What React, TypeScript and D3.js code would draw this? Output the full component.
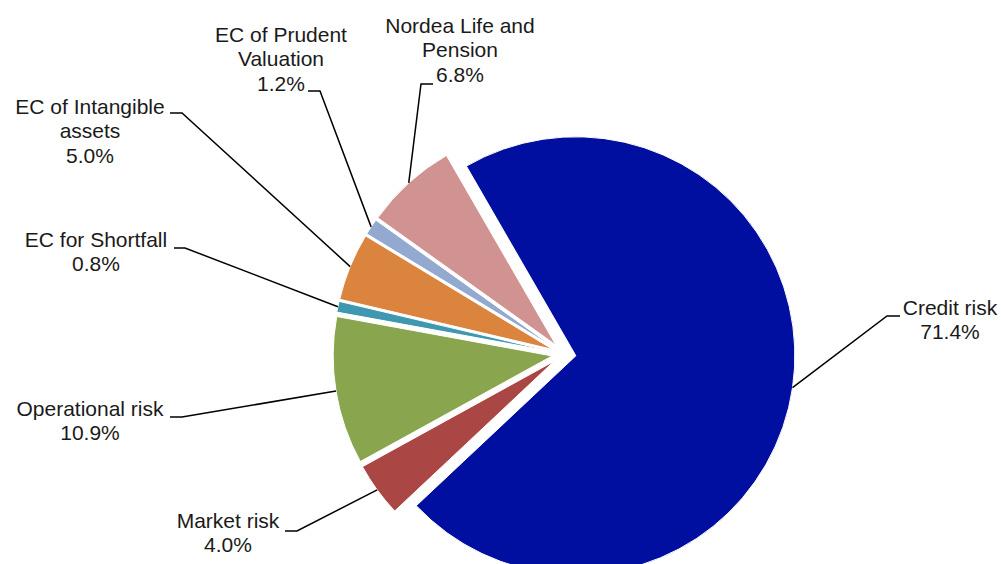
import React from "react";
import * as d3 from "d3";

// ---- Data ----
const categories = [
  "Credit risk",
  "Market risk",
  "Operational risk",
  "EC for Shortfall",
  "EC of Intangible assets",
  "EC of Prudent Valuation",
  "Nordea Life and Pension",
];
const values = [71.4, 4.0, 10.9, 0.8, 5.0, 1.2, 6.8];
const colors = ["#000F9F", "#AA4643", "#89A54E", "#3F97B0", "#DB843D", "#93A9CF", "#D19392"];

// ---- Layout ----
const W = 1001;
const H = 564;
const CX = 564;
const CY = 354;
const R = 219;
const EXPLODE = 12;
const START_DEG = -30;
const FONT = 21;
const LINE_H = 24.4;

// label layout: text centre x, first baseline y, words on first line, stub (x from, x to, y)
const labelLayout = [
  { tx: 950, ty: 315, breakAt: 0, stub: [900, 887, 316] },
  { tx: 228, ty: 528, breakAt: 0, stub: [285, 297, 531] },
  { tx: 90, ty: 416, breakAt: 0, stub: [170, 182, 417] },
  { tx: 96, ty: 247, breakAt: 0, stub: [174, 185, 248] },
  { tx: 90, ty: 114, breakAt: 3, stub: [170, 182, 113] },
  { tx: 281, ty: 42, breakAt: 3, stub: [308, 320, 91] },
  { tx: 460, ty: 33, breakAt: 3, stub: [433, 421, 84] },
];

export default function App() {
  const pie = d3
    .pie<number>()
    .sort(null)
    .startAngle((START_DEG * Math.PI) / 180)
    .endAngle((START_DEG * Math.PI) / 180 + 2 * Math.PI);
  const arcs = pie(values);
  const arcGen = d3.arc<d3.PieArcDatum<number>>().innerRadius(0).outerRadius(R);

  return (
    <svg
      width={W}
      height={H}
      style={{ position: "absolute", left: 0, top: 0, background: "#fff" }}
      fontFamily="'Liberation Sans', Arial, sans-serif"
    >
      <rect width={W} height={H} fill="#fff" />
      {arcs.map((a, i) => {
        const mid = (a.startAngle + a.endAngle) / 2;
        const ox = CX + EXPLODE * Math.sin(mid);
        const oy = CY - EXPLODE * Math.cos(mid);
        return (
          <path
            key={"s" + i}
            d={arcGen(a) || ""}
            transform={`translate(${ox},${oy})`}
            fill={colors[i]}
            stroke="#fff"
            strokeWidth={1}
          />
        );
      })}
      {arcs.map((a, i) => {
        const mid = (a.startAngle + a.endAngle) / 2;
        const ox = CX + EXPLODE * Math.sin(mid);
        const oy = CY - EXPLODE * Math.cos(mid);
        const px = ox + R * Math.sin(mid);
        const py = oy - R * Math.cos(mid);
        const L = labelLayout[i];
        const [x1, x2, sy] = L.stub;
        const words = categories[i].split(" ");
        const lines =
          L.breakAt > 0
            ? [words.slice(0, L.breakAt).join(" "), words.slice(L.breakAt).join(" ")]
            : [categories[i]];
        lines.push(values[i].toFixed(1) + "%");
        return (
          <g key={"l" + i}>
            <path
              d={`M${x1},${sy}L${x2},${sy}L${px},${py}`}
              fill="none"
              stroke="#000"
              strokeWidth={1.5}
            />
            <text
              x={L.tx}
              y={L.ty}
              textAnchor="middle"
              fontSize={FONT}
              fill="#1a1a1a"
            >
              {lines.map((ln, j) => (
                <tspan key={j} x={L.tx} y={L.ty + j * LINE_H}>
                  {ln}
                </tspan>
              ))}
            </text>
          </g>
        );
      })}
    </svg>
  );
}
